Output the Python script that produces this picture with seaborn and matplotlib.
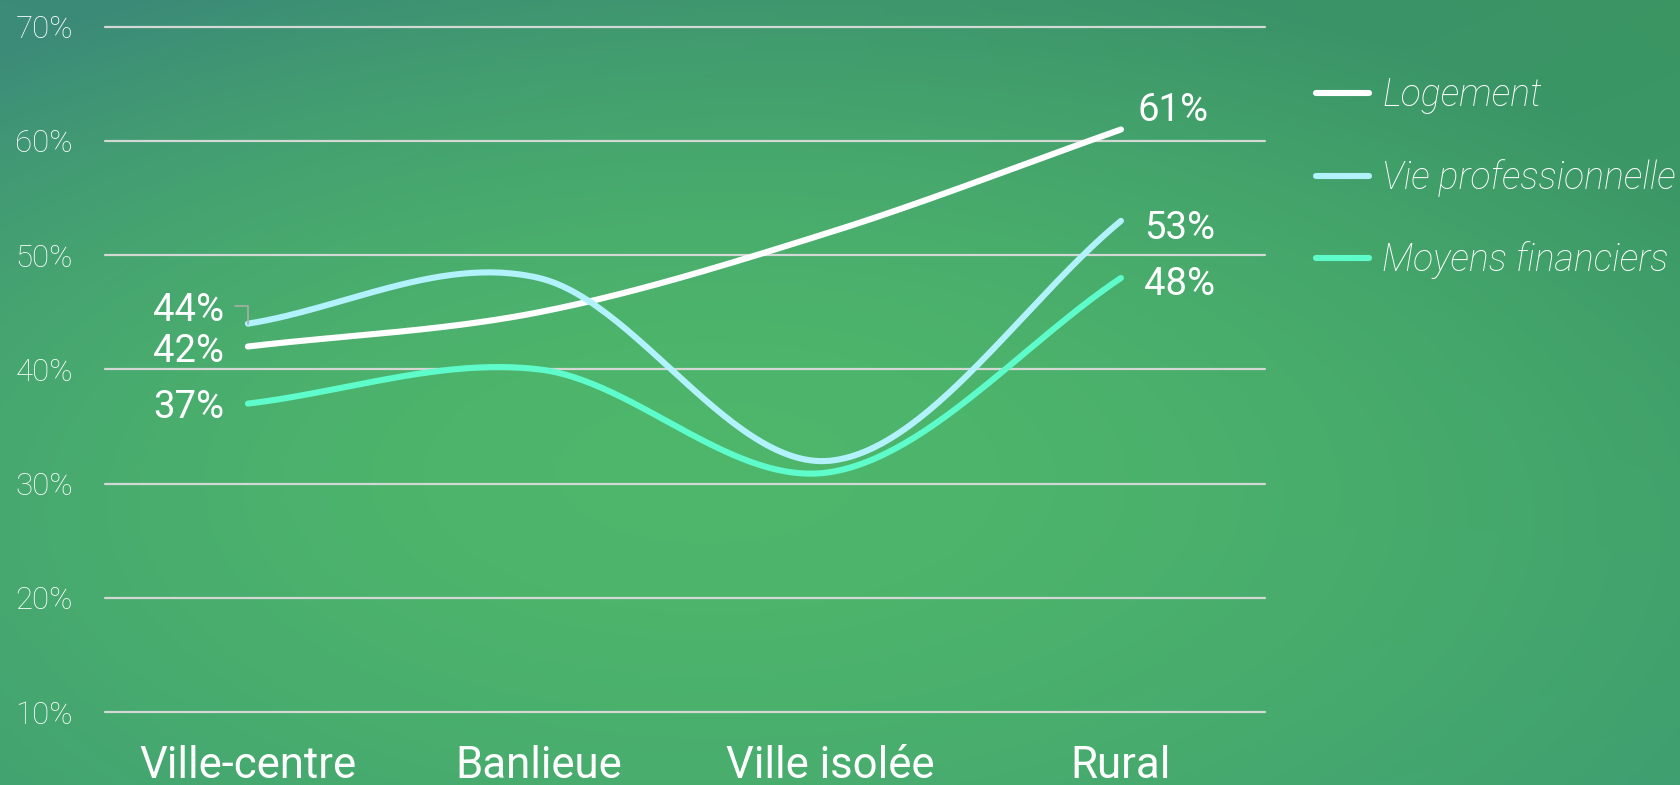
import numpy as np
import pandas as pd
import matplotlib
matplotlib.use("Agg")
import matplotlib.pyplot as plt
from matplotlib.lines import Line2D
import seaborn as sns

# ---------------- data ----------------
categories = ["Ville-centre", "Banlieue", "Ville isolée", "Rural"]
series_names = ["Logement", "Vie professionnelle", "Moyens financiers"]
logement = [42, 45, 52, 61]
vie_pro = [44, 48, 32, 53]
moyens = [37, 40, 31, 48]
y_ticks = [10, 20, 30, 40, 50, 60, 70]
y_tick_labels = ["10%", "20%", "30%", "40%", "50%", "60%", "70%"]

colors = {"Logement": "#ffffff",
          "Vie professionnelle": "#b2f2fc",
          "Moyens financiers": "#5ffccb"}

sns.set_theme(style="white")
plt.rcParams["font.family"] = ["Roboto", "DejaVu Sans"]

W, H = 1680, 785
fig = plt.figure(figsize=(W / 100, H / 100), dpi=100)

# ---------------- gradient background ----------------
ny, nx = 200, 400
yy, xx = np.mgrid[0:1:ny * 1j, 0:1:nx * 1j]  # yy: 0 top -> 1 bottom
tl = np.array([60, 138, 121]) / 255
tr = np.array([58, 149, 99]) / 255
br = np.array([64, 160, 112]) / 255
bl = np.array([63, 157, 115]) / 255
center = np.array([78, 183, 107]) / 255
edge = ((1 - xx)[..., None] * (1 - yy)[..., None] * tl + xx[..., None] * (1 - yy)[..., None] * tr
        + xx[..., None] * yy[..., None] * br + (1 - xx)[..., None] * yy[..., None] * bl)
r = np.sqrt(((xx - 0.42) / 0.68) ** 2 + ((yy - 0.60) / 0.68) ** 2)
t = np.clip(r, 0, 1) ** 1.7
img = center * (1 - t[..., None]) + edge * t[..., None]
bg = fig.add_axes([0, 0, 1, 1], zorder=-10)
bg.imshow(img, aspect="auto", extent=[0, 1, 0, 1], interpolation="bilinear")
bg.axis("off")

# ---------------- main axes ----------------
ax = fig.add_axes([105 / W, 1 - 712 / H, (1265 - 105) / W, (712 - 26.7) / H])
ax.patch.set_alpha(0)
ax.set_xlim(-0.491, 3.495)
ax.set_ylim(10, 70)


def catmull(vals, n=60):
    """Smooth drawing path (cubic Hermite, Catmull-Rom tangents) through the points."""
    v = np.asarray(vals, float)
    k = len(v)
    m = np.zeros(k)
    m[1:-1] = (v[2:] - v[:-2]) / 2
    m[0] = v[1] - v[0]
    m[-1] = v[-1] - v[-2]
    xs, ys = [], []
    for i in range(k - 1):
        tt = np.linspace(0, 1, n, endpoint=(i == k - 2))
        h00 = 2 * tt ** 3 - 3 * tt ** 2 + 1
        h10 = tt ** 3 - 2 * tt ** 2 + tt
        h01 = -2 * tt ** 3 + 3 * tt ** 2
        h11 = tt ** 3 - tt ** 2
        xs.append(i + tt)
        ys.append(h00 * v[i] + h10 * m[i] + h01 * v[i + 1] + h11 * m[i + 1])
    return np.concatenate(xs), np.concatenate(ys)


frames = []
for name, vals in zip(series_names, [logement, vie_pro, moyens]):
    sx, sy = catmull(vals)
    frames.append(pd.DataFrame({"x": sx, "y": sy, "serie": name}))
df = pd.concat(frames, ignore_index=True)

sns.lineplot(data=df, x="x", y="y", hue="serie", hue_order=series_names,
             palette=colors, estimator=None, sort=False, linewidth=4.4,
             legend=False, ax=ax)
for ln in ax.lines:
    ln.set_solid_capstyle("round")

# gridlines
ax.set_yticks(y_ticks)
ax.set_yticklabels(y_tick_labels)
ax.grid(axis="y", color="#d2d8d3", linewidth=1.6)
ax.grid(axis="x", visible=False)
for gl in ax.yaxis.get_gridlines():
    gl.set_clip_on(False)
ax.set_axisbelow(True)
for s in ax.spines.values():
    s.set_visible(False)

ax.tick_params(axis="y", length=0, pad=23, labelsize=22.5, labelcolor="#ffffff")
for lab in ax.get_yticklabels():
    lab.set_fontweight("light")
ax.set_xticks(range(len(categories)))
ax.set_xticklabels(categories)
ax.tick_params(axis="x", length=0, pad=24, labelsize=31.5, labelcolor="white")
ax.set_xlabel("")
ax.set_ylabel("")

# ---------------- value labels ----------------
lab_kw = dict(textcoords="offset points", fontsize=27.5, color="white", va="baseline")
ax.annotate(f"{vie_pro[0]}%", xy=(0, vie_pro[0]), xytext=(-17, 1.8), ha="right", **lab_kw)
ax.annotate(f"{logement[0]}%", xy=(0, logement[0]), xytext=(-17, -11.4), ha="right", **lab_kw)
ax.annotate(f"{moyens[0]}%", xy=(0, moyens[0]), xytext=(-17, -10.7), ha="right", **lab_kw)
ax.annotate(f"{logement[3]}%", xy=(3, logement[3]), xytext=(12, 6.2), ha="left", **lab_kw)
ax.annotate(f"{vie_pro[3]}%", xy=(3, vie_pro[3]), xytext=(16.6, -13), ha="left", **lab_kw)
ax.annotate(f"{moyens[3]}%", xy=(3, moyens[3]), xytext=(16.6, -12.2), ha="left", **lab_kw)
# small connector for the 44% label
ax.annotate("", xy=(0, vie_pro[0]), xytext=(-9, 12.5), textcoords="offset points",
            arrowprops=dict(arrowstyle="-", color="#a9b0aa", lw=1.2, shrinkA=0, shrinkB=0,
                            connectionstyle="angle,angleA=0,angleB=90,rad=0"))

# ---------------- legend ----------------
handles = [Line2D([0], [0], color=colors[n], lw=4.4, solid_capstyle="round") for n in series_names]
leg = ax.legend(handles, series_names, loc="upper left",
                bbox_to_anchor=(1316 / W, 1 - 77 / H), bbox_transform=fig.transFigure,
                frameon=False, handlelength=1.41, handletextpad=0.35, labelspacing=1.18,
                borderpad=0, borderaxespad=0,
                prop=dict(family="Roboto", style="italic", weight="light", size=27))
for txt in leg.get_texts():
    txt.set_color("white")

fig.savefig("out.png", dpi=100)
